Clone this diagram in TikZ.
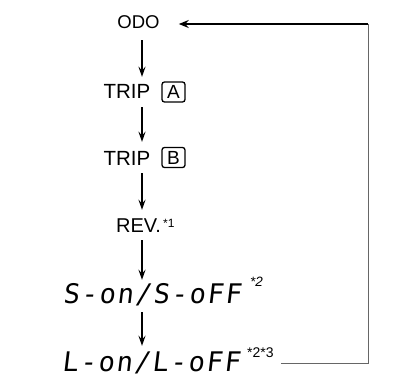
\documentclass[tikz,border=0pt]{standalone}
\usepackage{fontspec}
\setmainfont{Liberation Sans}
\newfontfamily\segfont[FakeSlant=0.12,LetterSpace=6.4]{DejaVu Sans Mono}
\usetikzlibrary{arrows.meta}
\begin{document}
\begin{tikzpicture}[x=1pt,y=-1pt,
  lbl/.style={inner sep=0pt, text depth=0pt, anchor=center},
  sup/.style={inner sep=0pt, anchor=south west},
  arr/.style={line width=1.7pt, -{Stealth[length=10pt,width=7pt,inset=3.5pt]}},
  keybox/.style={draw, rounded corners=2.5pt, line width=1.3pt, minimum width=23pt, minimum height=20pt, inner sep=0pt, font=\fontsize{19}{19}\selectfont},
  loopline/.style={line width=1pt, draw=black!60},
  topline/.style={line width=1.7pt, -{Stealth[length=10pt,width=8pt,inset=3.5pt]}},
  segtext/.style={lbl, text height=20pt, font=\segfont\fontsize{27}{27}\selectfont},
]
\useasboundingbox (0,0) rectangle (420,380);
\coordinate (col) at (142,0);
\coordinate (c1) at (368,24);
\coordinate (c2) at (368,363);
\node[lbl, text height=13pt, font=\fontsize{18.5}{18.5}\selectfont] (odo) at (138.5,21.5) {ODO};
\node[lbl, text height=15pt, font=\fontsize{20.5}{20.5}\selectfont] (tripa) at (127,90.5) {TRIP};
\node[keybox] (boxa) at (173.5,92) {A};
\node[lbl, text height=15pt, font=\fontsize{20.5}{20.5}\selectfont] (tripb) at (127,157.5) {TRIP};
\node[keybox] (boxb) at (173.5,157.5) {B};
\node[lbl, text height=14pt, font=\fontsize{20}{20}\selectfont] (rev) at (138.5,225) {REV.};
\node[sup, font=\fontsize{12}{12}\selectfont] (revsup) at (163,228) {*1};
\node[segtext] (son) at (152,293) {S-on/S-oFF};
\node[sup, font=\itshape\fontsize{13.5}{13.5}\selectfont] (ssup) at (250,287) {*2};
\node[segtext] (lon) at (151,361) {L-on/L-oFF};
\node[sup, font=\fontsize{14}{14}\selectfont] (lsup) at (247,358) {*2*3};
\draw[arr, shorten <=12pt, shorten >=6pt] (odo.south -| col) -- (tripa.north -| col);
\draw[arr, shorten <=9pt, shorten >=8pt] (tripa.south -| col) -- (tripb.north -| col);
\draw[arr, shorten <=8pt, shorten >=8pt] (tripb.south -| col) -- (rev.north -| col);
\draw[arr, shorten <=8pt, shorten >=3pt] (rev.south -| col) -- (son.north -| col);
\draw[arr, shorten <=9pt, shorten >=5pt] (son.south -| col) -- (lon.north -| col);
\draw[loopline, shorten <=7pt] (c2 -| lsup.east) -- (c2) -- (c1);
\draw[topline, shorten >=19pt] (c1) -- (c1 -| odo.east);
\end{tikzpicture}
\end{document}
